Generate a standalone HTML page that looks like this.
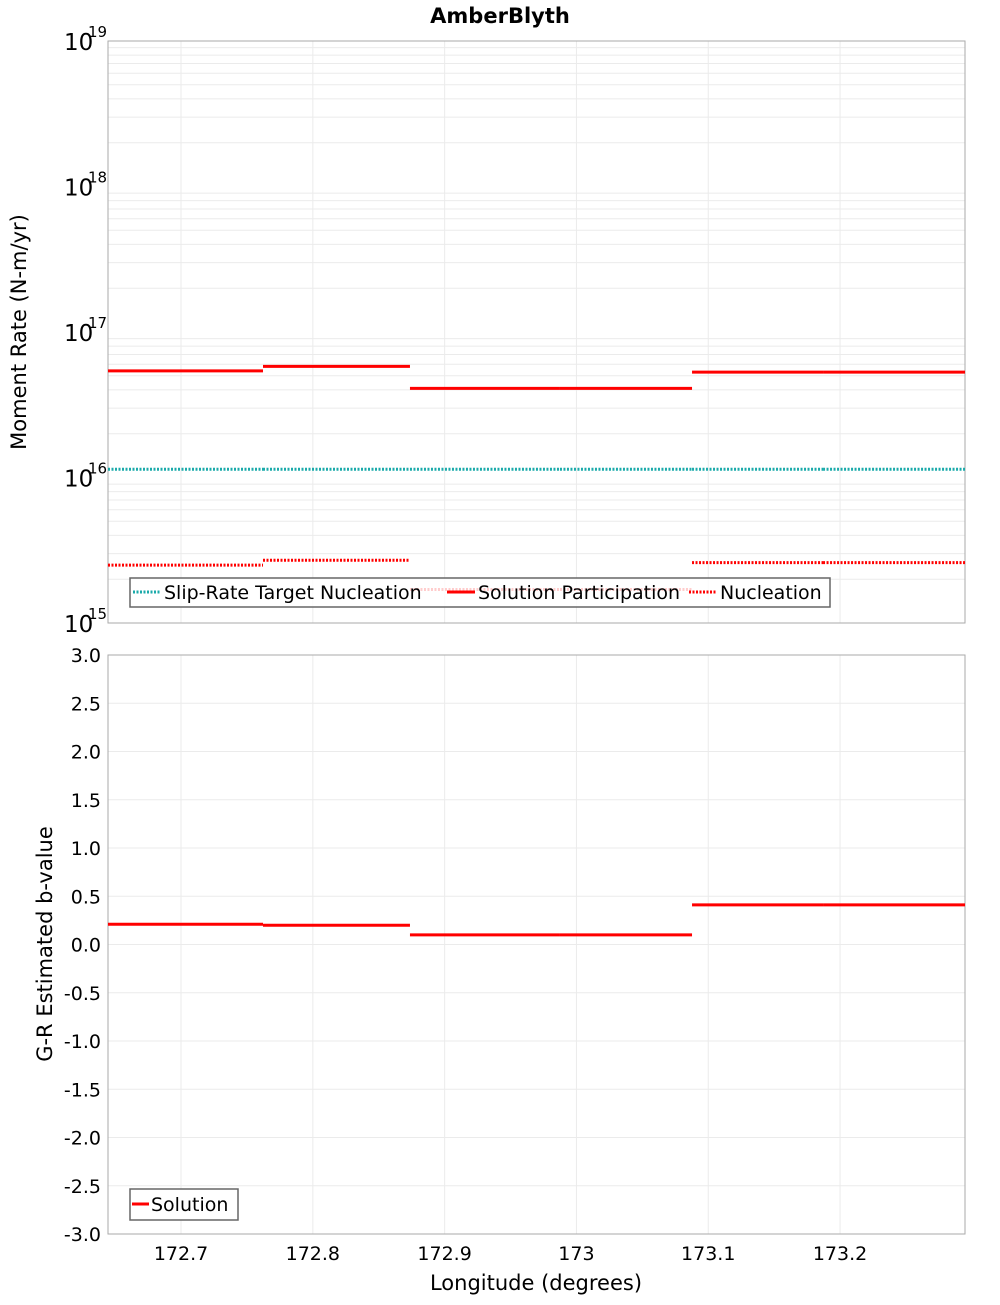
<!DOCTYPE html>
<html><head><meta charset="utf-8"><style>
body{margin:0;background:#fff;width:1000px;height:1300px;overflow:hidden}
svg text{font-family:"DejaVu Sans","Liberation Sans",sans-serif;fill:#000}
</style></head><body>
<svg id="chart" width="1000" height="1300" xmlns="http://www.w3.org/2000/svg">
<text x="500" y="23" text-anchor="middle" font-weight="bold" font-size="21">AmberBlyth</text>
<g id="topg"></g><g id="botg"></g>
<text transform="translate(26,332) rotate(-90)" text-anchor="middle" font-size="21">Moment Rate (N-m/yr)</text>
<text transform="translate(52,944) rotate(-90)" text-anchor="middle" font-size="21">G-R Estimated b-value</text>
<text x="536" y="1290" text-anchor="middle" font-size="21">Longitude (degrees)</text>
</svg>
<script>
const sectionBounds=[172.6446,172.7622,172.8737,172.9875,173.0877,173.1871,173.2948];
const participation=[5.4e16,5.8e16,4.1e16,4.1e16,5.3e16,5.3e16];
const nucleation=[2.5e15,2.7e15,1.7e15,1.7e15,2.6e15,2.6e15];
const targetNucleation=[1.14e16,1.14e16,1.14e16,1.14e16,1.14e16,1.14e16];
const bValues=[0.21,0.20,0.10,0.10,0.41,0.41];
const xTicks=[172.7,172.8,172.9,173.0,173.1,173.2];
const xTickLabels=["172.7","172.8","172.9","173","173.1","173.2"];
const decades=[15,16,17,18,19];
const bTicks=[3,2.5,2,1.5,1,0.5,0,-0.5,-1,-1.5,-2,-2.5,-3];

const NS="http://www.w3.org/2000/svg";
const L=108,R=965,T1=41,B1=623,T2=655,B2=1234;
const xMin=172.6446,xMax=173.2948;
const X=v=>L+(v-xMin)/(xMax-xMin)*(R-L);
const Y1=v=>B1-(Math.log10(v)-15)/4*(B1-T1);
const Y2=v=>B2-(v+3)/6*(B2-T2);
function mk(p,tag,a){const e=document.createElementNS(NS,tag);for(const k in a)e.setAttribute(k,a[k]);p.appendChild(e);return e;}
const topG=document.getElementById('topg'),botG=document.getElementById('botg');

let f1=mk(topG,'rect',{x:L,y:T1,width:R-L,height:B1-T1,fill:'#fff',stroke:'#aaa'});


let f2=mk(botG,'rect',{x:L,y:T2,width:R-L,height:B2-T2,fill:'#fff',stroke:'#aaa'});


xTicks.forEach((t,i)=>{
  let g=mk(topG,'line',{x1:X(t),x2:X(t),y1:T1,y2:B1,stroke:'#ebebeb'});
  
  
  let g2=mk(botG,'line',{x1:X(t),x2:X(t),y1:T2,y2:B2,stroke:'#ebebeb'});
  
  
  let tx=mk(botG,'text',{x:X(t),y:1260,'text-anchor':'middle','font-size':19});
  
  
  tx.textContent=xTickLabels[i];
});
decades.forEach(d=>{
  if(d<19)for(let m=2;m<=9;m++){let y=Y1(m*Math.pow(10,d));
    let g=mk(topG,'line',{x1:L,x2:R,y1:y,y2:y,stroke:'#ebebeb'});
    
    }
  let y=Y1(Math.pow(10,d));
  let t=mk(topG,'text',{x:64,y:y+9,'font-size':23});
  
  
  t.textContent='10';
  let s=mk(topG,'text',{x:88,y:y-4,'font-size':15});
  
  
  s.textContent=String(d);
});
bTicks.forEach(b=>{let y=Y2(b);
  let g=mk(botG,'line',{x1:L,x2:R,y1:y,y2:y,stroke:'#ebebeb'});
  
  
  let t=mk(botG,'text',{x:101,y:y+7,'text-anchor':'end','font-size':19});
  
  
  t.textContent=b.toFixed(1);
});
mk(topG,'rect',{x:L,y:T1,width:R-L,height:B1-T1,fill:'none',stroke:'#aaa'});
mk(botG,'rect',{x:L,y:T2,width:R-L,height:B2-T2,fill:'none',stroke:'#aaa'});

function seg(p,arr,Yf,name,color,dash){
  arr.forEach((v,i)=>{const y=Yf(v);
    let l=mk(p,'line',{x1:X(sectionBounds[i]),x2:X(sectionBounds[i+1]),y1:y,y2:y,stroke:color,'stroke-width':3});
    if(dash)l.setAttribute('stroke-dasharray',dash);
    
    
  });
}
seg(topG,targetNucleation,Y1,'target-nucleation-line','#1aaaaa','2,1.5');
seg(topG,participation,Y1,'participation-line','#f00',null);
seg(topG,nucleation,Y1,'nucleation-line','#f00','2,1.5');
seg(botG,bValues,Y2,'b-value-line','#f00',null);

let lg=mk(topG,'g',{});


mk(lg,'rect',{x:130,y:578,width:700,height:29,fill:'rgba(255,255,255,0.8)',stroke:'#666','stroke-width':1.5});
const items=[['Slip-Rate Target Nucleation','#1aaaaa','2,1.5',133],['Solution Participation','#f00',null,447],['Nucleation','#f00','2,1.5',689]];
items.forEach(it=>{
  let l=mk(lg,'line',{x1:it[3],x2:it[3]+28,y1:592,y2:592,stroke:it[1],'stroke-width':3});
  if(it[2])l.setAttribute('stroke-dasharray',it[2]);
  
  
  let t=mk(lg,'text',{x:it[3]+31,y:599,'font-size':19});
  
  
  t.textContent=it[0];
});
let lg2=mk(botG,'g',{});


mk(lg2,'rect',{x:130,y:1189,width:108,height:31,fill:'#fff',stroke:'#666','stroke-width':1.5});
let sl=mk(lg2,'line',{x1:132,x2:149,y1:1204,y2:1204,stroke:'#f00','stroke-width':3});


let st=mk(lg2,'text',{x:151,y:1211,'font-size':19});


st.textContent='Solution';
</script>
</body></html>
